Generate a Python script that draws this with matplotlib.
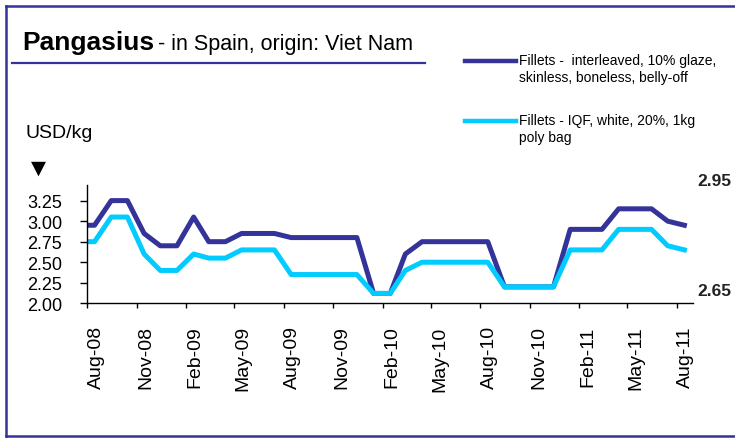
import numpy as np
import pandas as pd
import matplotlib
matplotlib.use("Agg")
import matplotlib.pyplot as plt
from matplotlib.lines import Line2D
from matplotlib.transforms import ScaledTranslation

plt.rcParams['font.family'] = ['Liberation Sans', 'DejaVu Sans']

# monthly prices, mid-month, Aug-08 .. Aug-11 (USD/kg)
months = pd.date_range('2008-08-01', periods=37, freq='MS') + pd.Timedelta(days=14)
start_date = pd.Timestamp('2008-08-01')

interleaved = [2.95, 3.25, 3.25, 2.85, 2.70, 2.70, 3.05, 2.75, 2.75, 2.85,
               2.85, 2.85, 2.80, 2.80, 2.80, 2.80, 2.80, 2.12, 2.12, 2.60,
               2.75, 2.75, 2.75, 2.75, 2.75, 2.20, 2.20, 2.20, 2.20, 2.90,
               2.90, 2.90, 3.15, 3.15, 3.15, 3.00, 2.95]
iqf = [2.75, 3.05, 3.05, 2.60, 2.40, 2.40, 2.60, 2.55, 2.55, 2.65,
       2.65, 2.65, 2.35, 2.35, 2.35, 2.35, 2.35, 2.12, 2.12, 2.40,
       2.50, 2.50, 2.50, 2.50, 2.50, 2.20, 2.20, 2.20, 2.20, 2.65,
       2.65, 2.65, 2.90, 2.90, 2.90, 2.70, 2.65]

series_labels = ["Fillets -  interleaved, 10% glaze,\nskinless, boneless, belly-off",
                 "Fillets - IQF, white, 20%, 1kg\npoly bag"]
yticks = [2.00, 2.25, 2.50, 2.75, 3.00, 3.25]
xtick_dates = pd.date_range('2008-08-01', '2011-08-01', freq='3MS')

DARK = '#333399'
LIGHT = '#00ccff'
W, H = 735, 439


def fx(x):
    return x / W


def fy(y):
    return 1 - y / H


fig = plt.figure(figsize=(W / 100, H / 100), dpi=100)
ax = fig.add_axes([fx(87), fy(304.3), fx(693) - fx(87), (304.3 - 186) / H])

dates = [start_date] + list(months)
ax.plot(dates, [interleaved[0]] + interleaved, color=DARK, lw=3.6)
ax.plot(dates, [iqf[0]] + iqf, color=LIGHT, lw=3.6)

ax.set_xlim(start_date, pd.Timestamp('2011-08-31'))
ax.set_ylim(2.0, 3.44)
ax.set_yticks(yticks)
ax.set_yticklabels(['%.2f' % v for v in yticks], fontsize=13)
ax.set_xticks(xtick_dates)
ax.set_xticklabels([])
ax.tick_params(axis='y', direction='out', length=5, width=1, pad=13)
ax.tick_params(axis='x', direction='out', length=3.6, width=1)
for s in ['top', 'right']:
    ax.spines[s].set_visible(False)
for s in ['left', 'bottom']:
    ax.spines[s].set_linewidth(1)

# x labels sit a little right of their ticks, as in the original
shift = ax.get_xaxis_transform() + ScaledTranslation(0.09, -0.22, fig.dpi_scale_trans)
for d in xtick_dates:
    ax.text(d, 0, d.strftime('%b-%y'), rotation=90, fontsize=14, ha='center', va='top',
            transform=shift)

# end value labels
fig.text(fx(731), fy(182), '%.2f' % interleaved[-1], fontsize=12.5, fontweight='bold',
         ha='right', va='center', color='#222222')
fig.text(fx(731), fy(291), '%.2f' % iqf[-1], fontsize=12.5, fontweight='bold',
         ha='right', va='center', color='#222222')

# title
t1 = fig.text(fx(22), fy(50), 'Pangasius', fontsize=19, fontweight='bold', va='baseline')
fig.canvas.draw()
bb = t1.get_window_extent()
fig.text((bb.x1 + 4) / W, fy(50), '- in Spain, origin: Viet Nam', fontsize=15.5, va='baseline')
fig.add_artist(Line2D([fx(12), fx(425)], [fy(64), fy(64)], color=DARK, lw=1.6))

# legend
fig.add_artist(Line2D([fx(465), fx(516)], [fy(62), fy(62)], color=DARK, lw=3.2))
fig.add_artist(Line2D([fx(465), fx(516)], [fy(122), fy(122)], color=LIGHT, lw=3.2))
fig.text(fx(519), fy(54), series_labels[0], fontsize=10, va='top', linespacing=1.3)
fig.text(fx(519), fy(114), series_labels[1], fontsize=10, va='top', linespacing=1.3)

fig.text(fx(25), fy(133), 'USD/kg', fontsize=14, va='center')
fig.text(fx(38), fy(168), '\u25BC', fontsize=14, ha='center', va='center',
         family=['DejaVu Sans'])

# frame
fig.add_artist(Line2D([fx(6), fx(6)], [fy(7), fy(437)], color=DARK, lw=1.8))
fig.add_artist(Line2D([fx(6), 1], [fy(7), fy(7)], color=DARK, lw=1.8))
fig.add_artist(Line2D([fx(6), 1], [fy(437), fy(437)], color=DARK, lw=1.8))

fig.savefig('out.png', dpi=100)
